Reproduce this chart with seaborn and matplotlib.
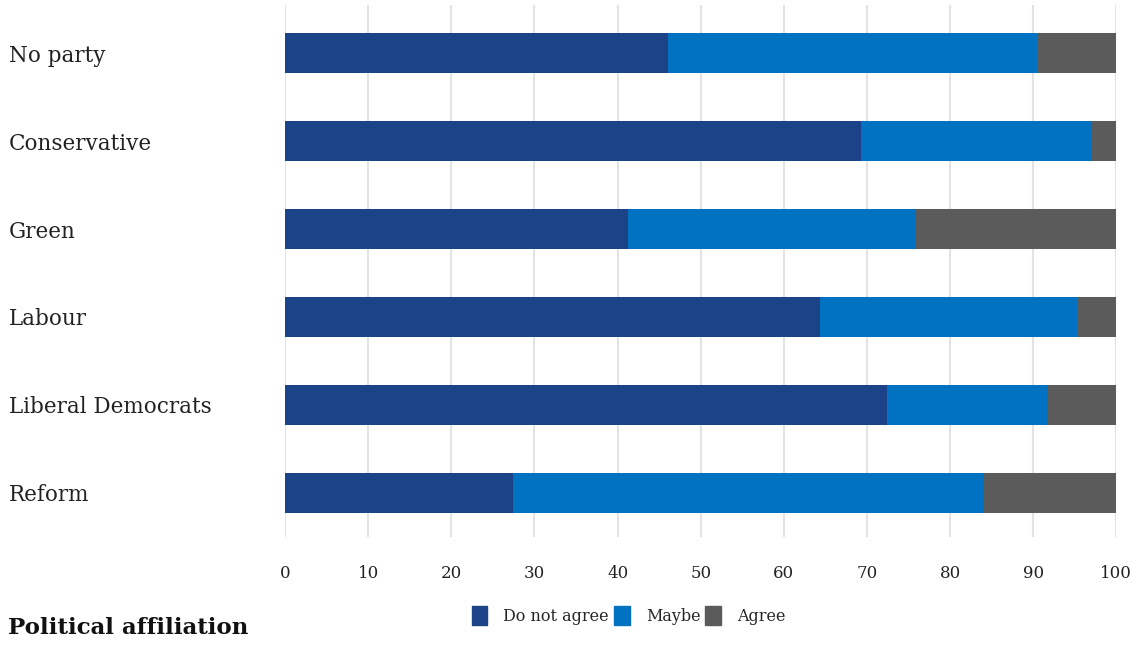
import matplotlib.pyplot as plt
import matplotlib.patches as mpatches
import pandas as pd
import seaborn as sns

parties = ["No party", "Conservative", "Green", "Labour", "Liberal Democrats", "Reform"]
do_not_agree = [46.1, 69.3, 41.3, 64.3, 72.4, 27.4]
maybe = [44.4, 27.7, 34.6, 31.0, 19.2, 56.5]
agree = [9.5, 3.0, 24.1, 4.7, 8.4, 16.1]
series = ["Do not agree", "Maybe", "Agree"]
colors = ["#1c4287", "#0072c1", "#5b5b5b"]

df = pd.DataFrame({"party": parties, "dna": do_not_agree, "maybe": maybe, "agree": agree})
df["c1"] = df["dna"]
df["c2"] = df["dna"] + df["maybe"]
df["c3"] = df["c2"] + df["agree"]

sns.set_style("white")
plt.rcParams["font.family"] = ["DejaVu Serif"]

fig = plt.figure(figsize=(11.45, 6.46), dpi=100)
ax = fig.add_axes([0.249, 0.169, 0.726, 0.823])

# stacked by drawing cumulative totals, largest first
sns.barplot(data=df, y="party", x="c3", color=colors[2], width=0.45, saturation=1, ax=ax,
            orient="y", zorder=2, linewidth=0)
sns.barplot(data=df, y="party", x="c2", color=colors[1], width=0.45, saturation=1, ax=ax,
            orient="y", zorder=3, linewidth=0)
sns.barplot(data=df, y="party", x="c1", color=colors[0], width=0.45, saturation=1, ax=ax,
            orient="y", zorder=4, linewidth=0)

ax.set_xlim(0, 100)
ax.set_ylim(5.5, -0.545)
ax.set_xticks(range(0, 101, 10))
ax.xaxis.grid(True, color="#e3e3e3", linewidth=1.5, zorder=0)
ax.set_axisbelow(True)
for s in ax.spines.values():
    s.set_visible(False)
ax.set_xlabel("")
ax.set_ylabel("")
ax.tick_params(axis="x", length=0, pad=20, labelsize=12, labelcolor="#222222")
ax.tick_params(axis="y", length=0, pad=199, labelsize=15.5, labelcolor="#222222")
for lab in ax.get_yticklabels():
    lab.set_horizontalalignment("left")

handles = [mpatches.Patch(color=c, label=l) for c, l in zip(colors, series)]
fig.legend(handles=handles, loc="center", bbox_to_anchor=(0.549, 0.047), ncol=3, frameon=False,
           fontsize=11.5, handlelength=1.0, handleheight=1.4, handletextpad=1.0, columnspacing=0.3)

fig.text(0.007, 0.028, "Political affiliation", fontsize=16.5, fontweight="bold", color="#111111",
         ha="left", va="center")

fig.savefig("out.png", dpi=100)
